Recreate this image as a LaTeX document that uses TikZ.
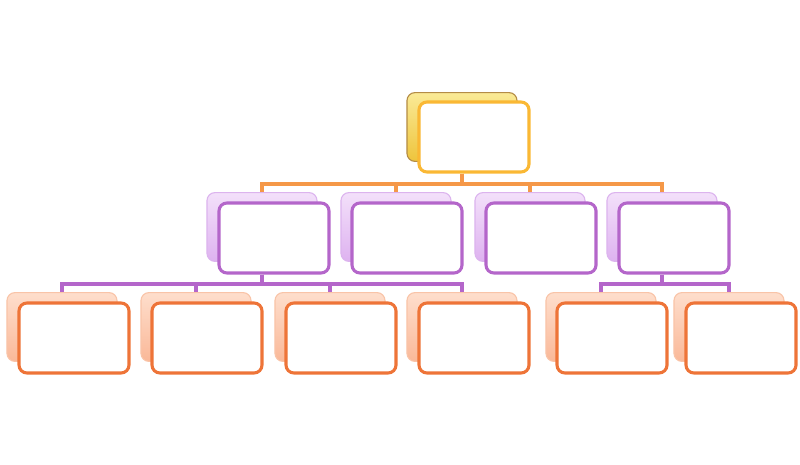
\documentclass[tikz,border=0pt]{standalone}
\usepackage{tikz}
\usetikzlibrary{calc,backgrounds}

\definecolor{goldline}{RGB}{250,184,52}
\definecolor{goldtop}{RGB}{250,234,150}
\definecolor{goldbot}{RGB}{238,196,60}
\definecolor{golddraw}{RGB}{180,140,70}
\definecolor{purpleline}{RGB}{180,102,202}
\definecolor{purpletop}{RGB}{243,224,250}
\definecolor{purplebot}{RGB}{222,178,240}
\definecolor{purpledraw}{RGB}{220,180,238}
\definecolor{orangeline}{RGB}{238,116,56}
\definecolor{orangetop}{RGB}{254,222,204}
\definecolor{orangebot}{RGB}{250,184,152}
\definecolor{orangedraw}{RGB}{249,196,168}
\definecolor{barorange}{RGB}{245,152,72}

\tikzset{
	frontbox/.style={draw=#1, line width=2.2pt, fill=white, rounded corners=0.2cm,
		minimum width=2.75cm, minimum height=1.75cm, inner sep=0pt},
	backbox/.style={draw=#1draw, line width=0.8pt, top color=#1top, bottom color=#1bot,
		rounded corners=0.2cm, minimum width=2.75cm, minimum height=1.72cm, inner sep=0pt},
	connline/.style={draw=#1, line width=2.8pt}
}

\begin{document}
\begin{tikzpicture}[x=0.025cm, y=-0.025cm]
	\useasboundingbox (0,0) rectangle (800,465);

	% Top box
	\node[backbox=gold] (topB) at (462,127) {};
	% Second row, back boxes
	\node[backbox=purple] (pB1) at (262,227) {};
	\node[backbox=purple] (pB2) at (396,227) {};
	\node[backbox=purple] (pB3) at (530,227) {};
	\node[backbox=purple] (pB4) at (662,227) {};
	% Third row, back boxes
	\node[backbox=orange] (oB1) at (62,327) {};
	\node[backbox=orange] (oB2) at (196,327) {};
	\node[backbox=orange] (oB3) at (330,327) {};
	\node[backbox=orange] (oB4) at (462,327) {};
	\node[backbox=orange] (oB5) at (601,327) {};
	\node[backbox=orange] (oB6) at (729,327) {};

	% Front boxes
	\node[frontbox=goldline] (top) at (474,137) {};
	\node[frontbox=purpleline] (p1) at (274,238) {};
	\node[frontbox=purpleline] (p2) at (407,238) {};
	\node[frontbox=purpleline] (p3) at (541,238) {};
	\node[frontbox=purpleline] (p4) at (674,238) {};
	\node[frontbox=orangeline] (o1) at (74,338) {};
	\node[frontbox=orangeline] (o2) at (207,338) {};
	\node[frontbox=orangeline] (o3) at (341,338) {};
	\node[frontbox=orangeline] (o4) at (474,338) {};
	\node[frontbox=orangeline] (o5) at (612,338) {};
	\node[frontbox=orangeline] (o6) at (741,338) {};

	% Connectors, behind the boxes
	\begin{scope}[on background layer]
	%Top to second row
	\draw[connline=barorange] (topB |- top.south) -- ++(0,10) -| (pB1.north);
	\draw[connline=barorange] (topB |- top.south) -- ++(0,10) -| (pB2.north);
	\draw[connline=barorange] (topB |- top.south) -- ++(0,10) -| (pB3.north);
	\draw[connline=barorange] (topB |- top.south) -- ++(0,10) -| (pB4.north);
	%First purple to orange
	\draw[connline=purpleline] (pB1 |- p1.south) -- ++(0,9) -| (oB1.north);
	\draw[connline=purpleline] (pB1 |- p1.south) -- ++(0,9) -| (oB2.north);
	\draw[connline=purpleline] (pB1 |- p1.south) -- ++(0,9) -| (oB3.north);
	\draw[connline=purpleline] (pB1 |- p1.south) -- ++(0,9) -| (oB4.north);
	%Last purple to orange
	\draw[connline=purpleline] (pB4 |- p4.south) -- ++(0,9) -| (oB5.north);
	\draw[connline=purpleline] (pB4 |- p4.south) -- ++(0,9) -| (oB6.north);
	\end{scope}

\end{tikzpicture}
\end{document}
